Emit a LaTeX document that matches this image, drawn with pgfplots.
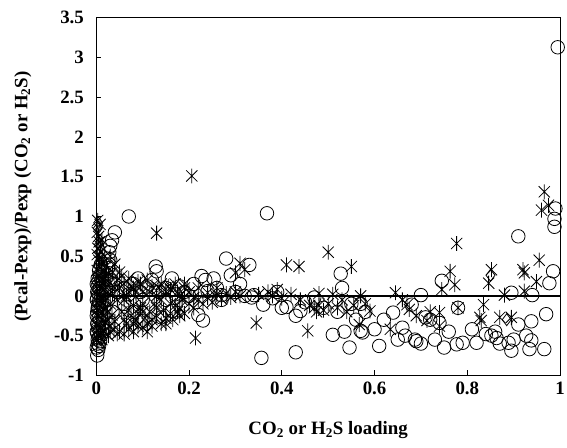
\documentclass[border=0pt]{standalone}
\usepackage{fontspec}
\setmainfont{Liberation Serif}
\usepackage{pgfplots}
\pgfplotsset{compat=1.18}

% asterisk like the spreadsheet one: vertical bar plus an X
\pgfdeclareplotmark{xstar}{%
  \pgfpathmoveto{\pgfpoint{0pt}{\pgfplotmarksize}}%
  \pgfpathlineto{\pgfpoint{0pt}{-\pgfplotmarksize}}%
  \pgfpathmoveto{\pgfpoint{-0.75\pgfplotmarksize}{0.75\pgfplotmarksize}}%
  \pgfpathlineto{\pgfpoint{0.75\pgfplotmarksize}{-0.75\pgfplotmarksize}}%
  \pgfpathmoveto{\pgfpoint{-0.75\pgfplotmarksize}{-0.75\pgfplotmarksize}}%
  \pgfpathlineto{\pgfpoint{0.75\pgfplotmarksize}{0.75\pgfplotmarksize}}%
  \pgfusepathqstroke}

\begin{document}
\begin{tikzpicture}
\begin{axis}[
    scale only axis,
    width=467pt, height=360pt,
    xmin=0, xmax=1,
    ymin=-1, ymax=3.5,
    xtick={0,0.2,0.4,0.6,0.8,1},
    ytick={-1,-0.5,0,0.5,1,1.5,2,2.5,3,3.5},
    tick pos=left,
    tick align=inside,
    major tick length=5pt,
    axis line style={line width=1pt},
    tick style={line width=0.8pt, black},
    /pgf/number format/assume math mode=true,
    /pgf/number format/fixed,
    ticklabel style={font=\bfseries\fontsize{19}{19}\selectfont},
    xticklabel style={yshift=-3pt},
    yticklabel style={xshift=-9pt},
    label style={font=\bfseries\fontsize{19}{19}\selectfont},
    xlabel={CO\textsubscript{2} or H\textsubscript{2}S loading},
    ylabel={(Pcal-Pexp)/Pexp (CO\textsubscript{2} or H\textsubscript{2}S)},
    xlabel style={yshift=-20pt},
    ylabel style={yshift=16pt},
  ]

  % open circles
  \addplot[only marks, mark=o, mark size=6.8pt, mark options={line width=0.8pt, black}]
  coordinates {
    (0.002,-0.75)(0.004,-0.68)(0.006,-0.63)(0.003,-0.6)(0.008,-0.57)(0.005,-0.53)
    (0.01,-0.5)(0.002,-0.47)(0.007,-0.44)(0.004,-0.4)(0.012,-0.37)(0.003,-0.34)
    (0.008,-0.3)(0.005,-0.27)(0.015,-0.24)(0.002,-0.2)(0.009,-0.17)(0.004,-0.13)
    (0.013,-0.1)(0.006,-0.07)(0.002,-0.03)(0.01,0.0)(0.004,0.03)(0.016,0.06)
    (0.007,0.09)(0.003,0.12)(0.011,0.15)(0.005,0.19)(0.02,0.22)(0.008,0.26)
    (0.014,0.3)(0.025,0.35)(0.03,0.45)(0.028,0.55)(0.03,0.63)(0.034,0.7)
    (0.04,0.8)(0.07,1.0)(0.02,-0.12)(0.018,-0.4)(0.022,0.1)(0.03,0.2)
    (0.025,-0.05)(0.04,0.15)(0.045,0.05)(0.035,-0.2)
    (0.001,-0.65)(0.003,-0.55)(0.001,-0.45)(0.002,-0.35)(0.001,-0.25)(0.003,-0.15)
    (0.001,-0.05)(0.002,0.05)(0.001,0.15)(0.003,0.22)(0.006,0.32)(0.01,0.4)
    (0.06,0.1)(0.07,0.02)(0.08,0.15)(0.09,0.22)(0.095,0.05)(0.1,-0.05)
    (0.11,0.12)(0.12,0.2)(0.128,0.37)(0.13,0.31)(0.14,-0.27)(0.135,0.05)
    (0.15,0.1)(0.163,0.22)(0.163,-0.19)(0.17,0.02)(0.18,0.12)(0.19,0.05)
    (0.2,0.0)(0.21,0.15)(0.22,-0.24)(0.227,0.25)(0.23,-0.31)(0.235,0.2)
    (0.253,0.22)(0.26,0.1)(0.27,-0.05)(0.27,0.01)(0.28,0.47)(0.29,0.26)
    (0.3,0.05)(0.31,0.15)(0.32,0.0)(0.33,0.39)(0.335,-0.02)(0.08,-0.2)
    (0.1,-0.32)(0.06,-0.1)(0.24,0.06)(0.15,-0.05)
    (0.34,0.01)(0.356,-0.78)(0.36,-0.11)(0.368,1.04)(0.38,-0.03)(0.39,0.05)
    (0.40,-0.15)(0.41,-0.14)(0.43,-0.25)(0.43,-0.71)(0.44,-0.19)(0.45,-0.08)
    (0.47,-0.02)(0.49,-0.15)(0.51,-0.49)(0.52,-0.2)(0.527,0.28)(0.53,0.10)
    (0.535,-0.45)(0.546,-0.65)(0.55,-0.1)(0.56,-0.3)(0.57,-0.44)(0.57,-0.1)
    (0.574,-0.46)(0.58,-0.2)
    (0.6,-0.42)(0.61,-0.63)(0.62,-0.3)(0.64,-0.21)(0.66,-0.4)(0.666,-0.5)
    (0.68,-0.11)(0.687,-0.55)(0.69,-0.57)(0.70,0.01)(0.71,-0.27)(0.72,-0.3)
    (0.73,-0.55)(0.74,-0.34)(0.745,0.19)(0.75,-0.65)(0.76,-0.45)(0.777,-0.61)
    (0.78,-0.15)(0.79,-0.59)(0.70,-0.6)(0.65,-0.55)
    (0.81,-0.42)(0.82,-0.59)(0.84,-0.48)(0.852,-0.5)(0.863,-0.53)(0.889,-0.59)
    (0.895,0.04)(0.895,-0.69)(0.9,-0.55)(0.91,0.75)(0.91,-0.36)(0.927,-0.5)
    (0.934,-0.67)(0.938,-0.32)(0.938,-0.56)(0.94,0.01)(0.966,-0.67)(0.97,-0.23)
    (0.977,0.16)(0.985,0.31)(0.988,0.87)(0.988,0.97)(0.99,1.1)(0.995,3.13)
    (0.86,-0.45)(0.87,-0.6)
  };

  % asterisks
  \addplot[only marks, mark=xstar, mark size=7.5pt, mark options={line width=0.8pt, black}]
  coordinates {
    (0.003,0.95)(0.008,0.9)(0.005,0.75)(0.012,0.7)(0.003,0.6)(0.01,0.55)
    (0.018,0.5)(0.005,0.45)(0.014,0.42)(0.022,0.38)(0.008,0.35)(0.017,0.3)
    (0.026,0.28)(0.004,0.25)(0.012,0.22)(0.02,0.18)(0.03,0.16)(0.007,0.12)
    (0.016,0.08)(0.025,0.05)(0.035,0.03)(0.003,0.0)(0.012,-0.03)(0.02,-0.06)
    (0.03,-0.1)(0.006,-0.12)(0.015,-0.16)(0.024,-0.2)(0.034,-0.24)(0.004,-0.26)
    (0.012,-0.3)(0.02,-0.34)(0.028,-0.38)(0.038,-0.42)(0.008,-0.4)(0.016,-0.45)
    (0.026,-0.5)(0.005,-0.5)(0.012,-0.55)(0.04,0.1)(0.045,-0.05)(0.045,0.2)
    (0.05,0.3)(0.04,0.4)(0.03,0.5)
    (0.002,0.8)(0.006,0.68)(0.009,0.62)(0.002,0.52)(0.007,0.48)(0.011,0.4)
    (0.002,0.32)(0.006,0.2)(0.01,0.1)(0.002,0.06)(0.008,-0.05)(0.002,-0.18)
    (0.01,-0.22)(0.002,-0.38)(0.009,-0.46)(0.002,-0.55)(0.02,0.25)(0.025,-0.3)
    (0.03,-0.45)(0.035,0.3)(0.04,-0.32)(0.045,-0.48)(0.05,0.1)(0.055,-0.2)
    (0.055,0.25)(0.06,-0.3)(0.065,0.0)(0.07,-0.18)(0.075,0.12)(0.08,-0.35)
    (0.085,0.05)(0.09,-0.22)(0.095,0.15)(0.1,-0.1)(0.11,-0.45)(0.115,0.05)
    (0.12,-0.38)(0.13,-0.15)(0.135,0.1)(0.14,-0.05)(0.15,-0.35)(0.155,0.12)
    (0.16,-0.1)(0.165,-0.3)(0.175,0.05)(0.18,-0.25)(0.185,-0.05)(0.19,0.15)
    (0.05,-0.45)(0.06,-0.48)(0.065,-0.35)(0.07,-0.42)(0.075,-0.25)(0.08,-0.45)
    (0.085,-0.3)(0.09,-0.38)(0.095,-0.15)(0.1,-0.4)(0.105,-0.28)(0.11,-0.35)
    (0.115,-0.2)(0.12,-0.3)(0.125,-0.1)(0.13,-0.25)(0.14,-0.35)(0.145,-0.18)
    (0.15,-0.28)(0.16,-0.22)(0.17,-0.12)(0.175,-0.2)(0.18,-0.15)(0.19,-0.22)
    (0.2,-0.1)(0.21,-0.15)(0.22,-0.05)(0.23,-0.1)(0.24,-0.02)(0.25,-0.08)
    (0.26,0.02)(0.27,-0.04)(0.28,0.03)(0.29,-0.02)(0.3,0.05)(0.31,0.0)
    (0.06,0.15)(0.07,0.22)(0.08,0.1)(0.09,0.18)(0.1,0.05)(0.11,0.2)
    (0.12,0.12)(0.13,0.0)(0.14,0.15)(0.15,0.05)(0.16,0.08)(0.17,0.15)
    (0.18,0.0)(0.19,0.1)(0.2,0.05)(0.21,-0.02)(0.22,0.1)(0.24,0.04)
    (0.26,0.1)(0.06,-0.05)(0.08,-0.12)(0.1,-0.2)(0.07,0.05)
    (0.13,0.79)(0.206,1.51)(0.214,-0.53)(0.30,0.29)(0.31,0.41)(0.32,0.33)
    (0.345,-0.34)(0.35,0.02)(0.37,0.05)(0.38,0.0)(0.39,0.08)(0.41,0.39)
    (0.42,0.02)(0.437,0.37)(0.44,-0.05)(0.456,-0.44)(0.46,-0.12)(0.47,-0.15)
    (0.475,-0.2)(0.48,-0.12)(0.49,-0.18)(0.5,0.55)(0.5,-0.1)(0.51,0.02)
    (0.52,-0.15)(0.53,-0.05)(0.54,-0.2)(0.55,0.37)(0.555,-0.12)(0.567,-0.36)
    (0.57,0.0)(0.58,-0.1)(0.59,-0.19)(0.48,0.03)(0.4,-0.03)
    (0.634,-0.42)(0.645,0.04)(0.66,-0.05)(0.67,-0.11)(0.675,-0.17)(0.69,-0.25)
    (0.713,-0.31)(0.72,-0.2)(0.74,-0.21)(0.74,-0.38)(0.745,0.08)(0.763,0.31)
    (0.773,0.14)(0.777,0.66)(0.78,-0.15)
    (0.827,-0.27)(0.83,-0.31)(0.835,-0.11)(0.846,0.16)(0.852,0.33)(0.87,-0.27)
    (0.88,0.01)(0.895,-0.27)(0.92,0.33)(0.923,0.29)(0.923,0.06)(0.949,0.18)
    (0.955,0.45)(0.96,1.08)(0.966,1.31)(0.975,1.14)
  };

  % open diamonds
  \addplot[only marks, mark=diamond, mark size=6pt, mark options={line width=0.8pt, black}]
  coordinates {
    (0.003,0.85)(0.006,0.65)(0.004,0.92)(0.85,0.26)(0.885,-0.3)
  };

  % zero line
  \addplot[black, line width=1.6pt] coordinates {(0,0)(1,0)};

\end{axis}
\pgfresetboundingbox
\path ([shift={(-97pt,-73pt)}]current axis.south west)
  rectangle ([shift={(7pt,18pt)}]current axis.north east);
\end{tikzpicture}
\end{document}
